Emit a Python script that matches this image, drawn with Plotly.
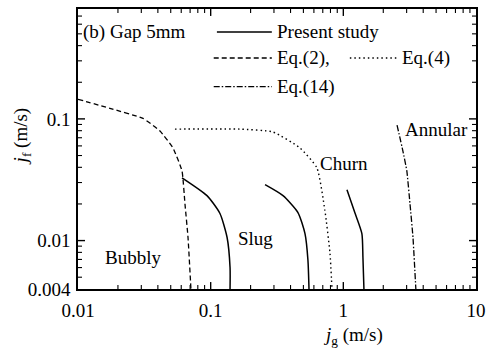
import math
import plotly.graph_objects as go

# ---- data ----
eq2_x = [0.01, 0.0174, 0.0309, 0.0415, 0.052, 0.0608, 0.064, 0.0675, 0.071]
eq2_y = [0.145, 0.122, 0.101, 0.0795, 0.0577, 0.0374, 0.0201, 0.0106, 0.004]

slug_x = [0.0608, 0.0938, 0.1175, 0.133, 0.140, 0.140]
slug_y = [0.0328, 0.0234, 0.0167, 0.0106, 0.0060, 0.004]

churn_x = [0.257, 0.351, 0.455, 0.514, 0.541, 0.551]
churn_y = [0.0288, 0.0234, 0.017, 0.0114, 0.0069, 0.004]

eq4_x = [0.0538, 0.166, 0.295, 0.471, 0.632, 0.726, 0.793, 0.821]
eq4_y = [0.0824, 0.0824, 0.078, 0.0577, 0.0396, 0.0177, 0.0079, 0.004]

ann_x = [1.065, 1.22, 1.38, 1.405, 1.43]
ann_y = [0.0262, 0.017, 0.0114, 0.0073, 0.004]

eq14_x = [2.54, 2.81, 3.01, 3.18, 3.35, 3.52]
eq14_y = [0.0889, 0.0546, 0.0374, 0.0201, 0.0106, 0.004]

region_names = ["Bubbly", "Slug", "Churn", "Annular"]
region_x = [0.026, 0.216, 1.01, 5.0]
region_y = [0.0073, 0.0104, 0.0428, 0.0824]

x_major = [0.01, 0.1, 1, 10]
x_major_text = ["0.01", "0.1", "1", "10"]
y_major = [0.004, 0.01, 0.1, 0.8]
y_major_text = ["0.004", "0.01", "0.1", "0.8"]

x_minor = [m * d for d in [0.01, 0.1, 1] for m in range(2, 10)]
y_minor = [0.005, 0.006, 0.007, 0.008, 0.009] + [m * d for d in [0.01, 0.1] for m in range(2, 10) if m * d < 0.8]

FONT = "Liberation Serif"
FS = 19

X_MIN, X_MAX = 0.01, 10
Y_MIN, Y_MAX = 0.004, 0.8
XR = [math.log10(X_MIN), math.log10(X_MAX)]
YR = [math.log10(Y_MIN), math.log10(Y_MAX)]

W, H = 495, 353
ML, MR, MT, MB = 78, 19, 7, 64
px_per_dec_x = (W - ML - MR) / (XR[1] - XR[0])
px_per_dec_y = (H - MT - MB) / (YR[1] - YR[0])

fig = go.Figure()

def add_line(x, y, dash, width=1.5, smooth=0.6):
    fig.add_trace(go.Scatter(x=x, y=y, mode="lines", showlegend=False,
                             line=dict(color="black", width=width, dash=dash,
                                       shape="spline", smoothing=smooth),
                             hoverinfo="skip"))

add_line(eq2_x, eq2_y, "5px,3px", 1.3, 0.4)
add_line(slug_x, slug_y, "solid")
add_line(churn_x, churn_y, "solid")
add_line(eq4_x, eq4_y, "1.5px,3px", 1.4, 0.5)
add_line(ann_x, ann_y, "solid")
add_line(eq14_x, eq14_y, "6px,2px,1.5px,2px", 1.3, 0.4)

# inward tick marks on all four sides, built from the tick value lists
def tick_trace(vals, length_px, width):
    xs, ys = [], []
    fy = 10 ** (length_px / px_per_dec_y)
    fx = 10 ** (length_px / px_per_dec_x)
    for v in vals[0]:  # x ticks (bottom and top)
        xs += [v, v, None, v, v, None]
        ys += [Y_MIN, Y_MIN * fy, None, Y_MAX, Y_MAX / fy, None]
    for v in vals[1]:  # y ticks (left and right)
        xs += [X_MIN, X_MIN * fx, None, X_MAX, X_MAX / fx, None]
        ys += [v, v, None, v, v, None]
    fig.add_trace(go.Scatter(x=xs, y=ys, mode="lines", showlegend=False,
                             hoverinfo="skip", line=dict(color="black", width=width)))

tick_trace((x_minor, y_minor), 4, 1.1)
tick_trace((x_major[1:-1], y_major[1:-1]), 7, 1.4)

for name, x, y in zip(region_names, region_x, region_y):
    fig.add_annotation(x=math.log10(x), y=math.log10(y), xref="x", yref="y", text=name,
                       showarrow=False, font=dict(family=FONT, size=FS, color="black"),
                       xanchor="center", yanchor="middle")

# legend drawn inside plot
legend_items = [
    ("solid", 0.349, 0.487, 0.918, "Present study"),
    ("5px,3px", 0.341, 0.487, 0.825, "Eq.(2),"),
    ("1.5px,3px", 0.683, 0.801, 0.825, "Eq.(4)"),
    ("6px,2px,1.5px,2px", 0.341, 0.487, 0.723, "Eq.(14)"),
]
for dash, x0, x1, yy, label in legend_items:
    fig.add_shape(type="line", xref="paper", yref="paper", x0=x0, x1=x1, y0=yy, y1=yy,
                  line=dict(color="black", width=1.5 if dash == "solid" else 1.3, dash=dash))
    fig.add_annotation(xref="paper", yref="paper", x=x1 + 0.008, y=yy, text=label,
                       showarrow=False, xanchor="left", yanchor="middle",
                       font=dict(family=FONT, size=FS, color="black"))

fig.add_annotation(xref="paper", yref="paper", x=0.008, y=0.918, text="(b) Gap 5mm",
                   showarrow=False, xanchor="left", yanchor="middle",
                   font=dict(family=FONT, size=FS, color="black"))

# axis titles
fig.add_annotation(xref="paper", yref="paper", x=0.691, y=-0.167,
                   text="<i>j</i><sub>g</sub> (m/s)", showarrow=False,
                   xanchor="center", yanchor="middle",
                   font=dict(family=FONT, size=FS, color="black"))
fig.add_annotation(xref="paper", yref="paper", x=-0.14, y=0.546,
                   text="<i>j</i><sub>f</sub> (m/s)", showarrow=False, textangle=-90,
                   xanchor="center", yanchor="middle",
                   font=dict(family=FONT, size=FS, color="black"))

fig.update_layout(
    width=W, height=H,
    margin=dict(l=ML, r=MR, t=MT, b=MB),
    paper_bgcolor="white", plot_bgcolor="white",
    font=dict(family=FONT, size=FS, color="black"),
    showlegend=False,
    xaxis=dict(type="log", range=XR, tickmode="array", tickvals=x_major,
               ticktext=x_major_text, ticks="", ticklabelstandoff=3,
               showgrid=False, zeroline=False, showline=True, linecolor="black",
               linewidth=1.5, mirror=True,
               tickfont=dict(family=FONT, size=FS, color="black")),
    yaxis=dict(type="log", range=YR, tickmode="array", tickvals=y_major,
               ticktext=y_major_text, ticks="", ticklabelstandoff=2,
               showgrid=False, zeroline=False, showline=True, linecolor="black",
               linewidth=1.5, mirror=True,
               tickfont=dict(family=FONT, size=FS, color="black")),
)

fig.write_html("out.html")
